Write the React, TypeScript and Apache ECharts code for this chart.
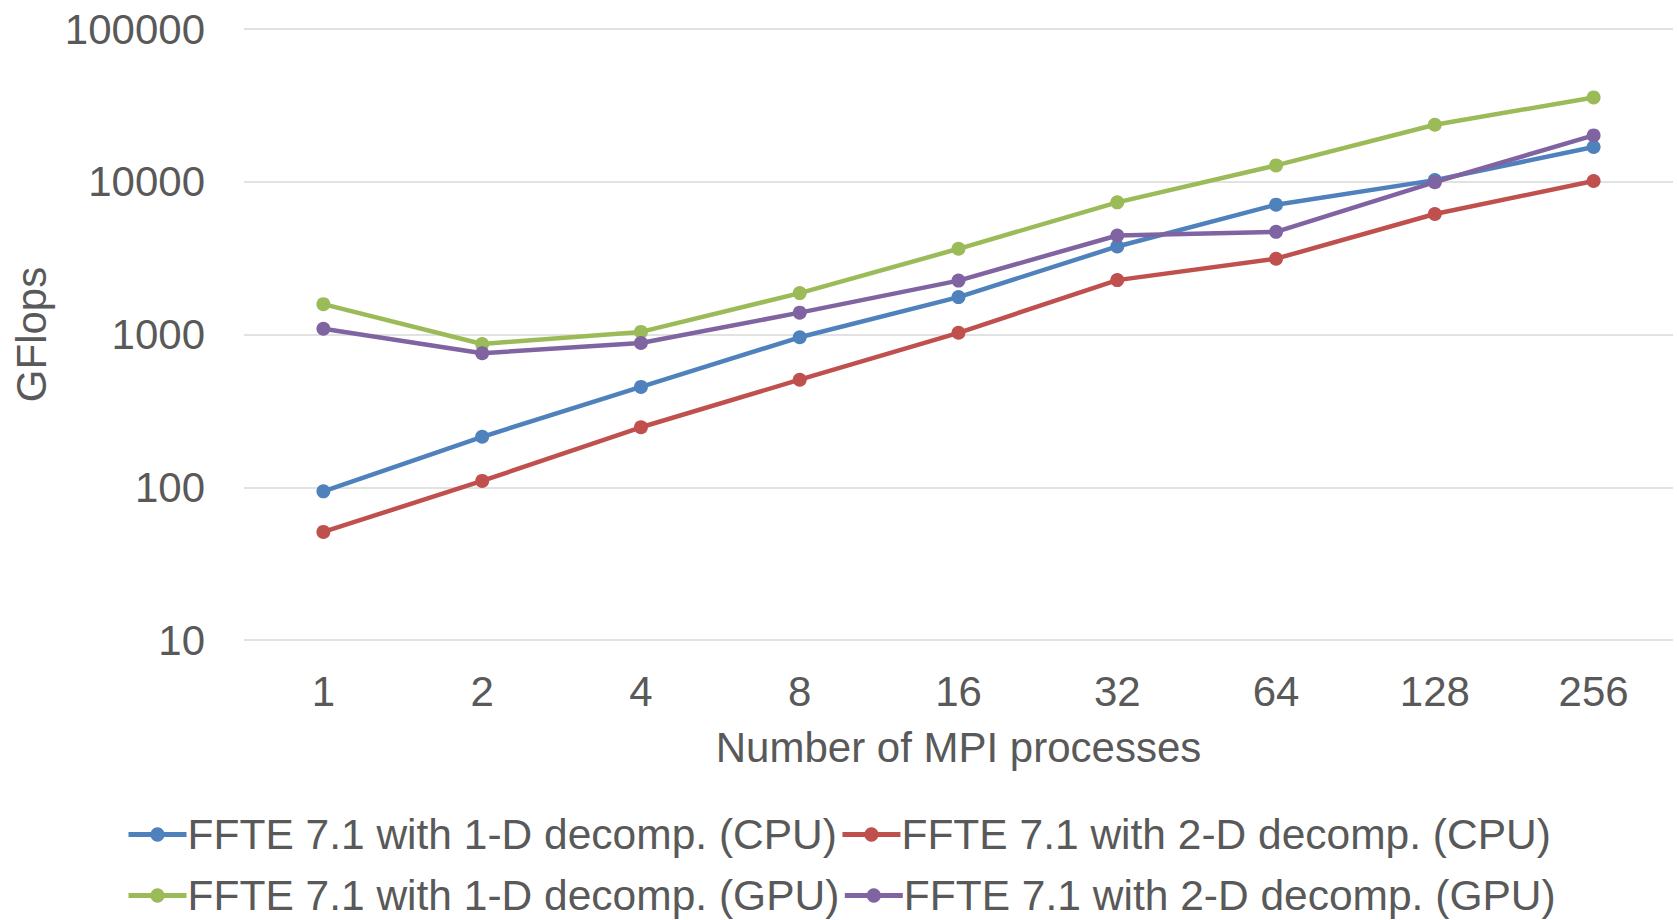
import React, { useEffect, useRef } from "react";
import * as echarts from "echarts";

const categories = ["1", "2", "4", "8", "16", "32", "64", "128", "256"];
const cpu1D = [94, 214, 454, 959, 1758, 3770, 7080, 10250, 16870];
const cpu2D = [51, 110, 247, 506, 1026, 2270, 3135, 6150, 10120];
const gpu1D = [1580, 867, 1040, 1866, 3640, 7330, 12790, 23600, 35650];
const gpu2D = [1090, 754, 879, 1390, 2254, 4450, 4700, 9930, 20100];

const names = [
  "FFTE 7.1 with 1-D decomp. (CPU)",
  "FFTE 7.1 with 2-D decomp. (CPU)",
  "FFTE 7.1 with 1-D decomp. (GPU)",
  "FFTE 7.1 with 2-D decomp. (GPU)",
];
const colors = ["#4F81BD", "#C0504D", "#9BBB59", "#8064A2"];
const seriesData = [cpu1D, cpu2D, gpu1D, gpu2D];

const FONT = "'Liberation Sans', Arial, sans-serif";
const TEXT = "#595959";
const FS = 42;

export default function App() {
  const ref = useRef<HTMLDivElement>(null);
  useEffect(() => {
    document.body.style.margin = "0";
    if (!ref.current) return;
    const chart = echarts.init(ref.current, undefined, { renderer: "svg" });
    const legendCommon = {
      left: 121,
      orient: "horizontal" as const,
      itemWidth: 58,
      itemHeight: 18,
      itemGap: 3,
      lineStyle: { width: 5 },
      textStyle: { fontSize: 42.5, color: TEXT, fontFamily: FONT, padding: [0, 0, 0, -4] },
    };
    chart.setOption({
      animation: false,
      textStyle: { fontFamily: FONT },
      grid: { left: 244, right: 4, top: 29, bottom: 280, containLabel: false },
      legend: [
        { ...legendCommon, top: 808, data: [names[0], names[1]] },
        { ...legendCommon, top: 869, data: [names[2], names[3]] },
      ],
      xAxis: {
        type: "category",
        data: categories,
        boundaryGap: true,
        axisLine: { show: false },
        axisTick: { show: false },
        axisLabel: { fontSize: FS, color: TEXT, fontFamily: FONT, margin: 30 },
        name: "Number of MPI processes",
        nameLocation: "middle",
        nameGap: 86,
        nameTextStyle: { fontSize: FS, color: TEXT, fontFamily: FONT },
      },
      yAxis: {
        type: "log",
        logBase: 10,
        min: 10,
        max: 100000,
        axisLine: { show: false },
        axisTick: { show: false },
        axisLabel: {
          fontSize: FS,
          color: TEXT,
          fontFamily: FONT,
          margin: 39,
          formatter: (v: number) => String(Math.round(v)),
        },
        splitLine: { lineStyle: { color: "#D9D9D9", width: 1.5 } },
        name: "GFlops",
        nameLocation: "middle",
        nameGap: 192,
        nameRotate: 90,
        nameTextStyle: { fontSize: FS, color: TEXT, fontFamily: FONT },
      },
      series: seriesData.map((d, i) => ({
        name: names[i],
        type: "line",
        data: d,
        symbol: "circle",
        symbolSize: 14,
        lineStyle: { width: 4.5, color: colors[i] },
        itemStyle: { color: colors[i] },
        z: i === 3 ? 4 : 2 + i * 0.1,
      })),
    });
    return () => chart.dispose();
  }, []);
  return <div ref={ref} style={{ width: 1677, height: 920 }} />;
}
